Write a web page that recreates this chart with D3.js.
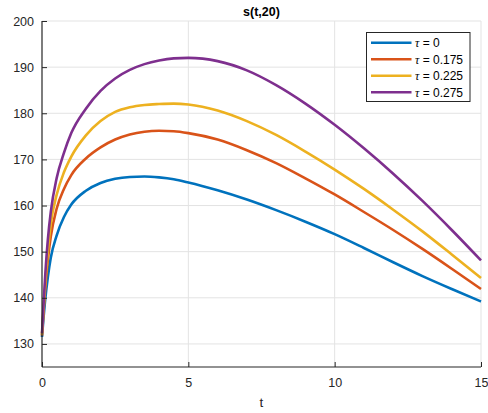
<!DOCTYPE html>
<html>
<head>
<meta charset="utf-8">
<script src="https://cdn.jsdelivr.net/npm/d3@7"></script>
<style>
  html, body { margin: 0; padding: 0; background: #fff; }
  svg { display: block; font-family: "Liberation Sans", Arial, Helvetica, sans-serif; }
</style>
</head>
<body>
<svg id="chart" width="488" height="413"></svg>
<script>
const tValues = [0, 0.05, 0.1, 0.2, 0.3, 0.5, 0.75, 1, 1.5, 2, 2.5, 3, 3.5, 4, 4.5, 5, 6, 7, 8, 9, 10, 11, 12, 13, 14, 15];
const sTau0    = [131.5, 135.5, 139.0, 144.5, 148.7, 153.5, 157.5, 160.2, 163.2, 164.9, 165.8, 166.2, 166.3, 166.1, 165.7, 165.0, 163.3, 161.3, 159.0, 156.5, 153.8, 150.8, 147.7, 144.7, 141.9, 139.2];
const sTau175  = [131.8, 136.8, 141.2, 148.2, 153.3, 159.3, 163.6, 166.6, 170.2, 172.6, 174.3, 175.4, 176.0, 176.2, 176.1, 175.7, 174.3, 172.0, 169.2, 165.9, 162.4, 158.6, 154.7, 150.6, 146.3, 141.9];
const sTau225  = [132.0, 137.3, 142.2, 150.0, 156.0, 162.3, 167.2, 170.6, 175.2, 178.3, 180.3, 181.3, 181.8, 182.0, 182.1, 181.9, 180.6, 178.3, 175.3, 171.7, 167.8, 163.6, 159.1, 154.4, 149.4, 144.3];
const sTau275  = [132.3, 138.2, 143.8, 152.6, 158.6, 165.9, 171.4, 175.7, 181.0, 184.85, 187.55, 189.4, 190.65, 191.45, 191.9, 192.0, 191.3, 189.3, 186.1, 182.1, 177.5, 172.4, 166.9, 161.0, 154.7, 148.1];
const seriesNames = ["\u03C4 = 0", "\u03C4 = 0.175", "\u03C4 = 0.225", "\u03C4 = 0.275"];
const seriesColors = ["#0072BD", "#D95319", "#EDB120", "#7E2F8E"];
const xTicks = [0, 5, 10, 15];
const yTicks = [130, 140, 150, 160, 170, 180, 190, 200];
const titleText = "s(t,20)";
const xLabelText = "t";

const allSeries = [sTau0, sTau175, sTau225, sTau275];

const svg = d3.select("#chart");
const margin = { left: 42, right: 7, top: 21, bottom: 46 };
const W = 488, H = 413;
const x = d3.scaleLinear().domain([0, 15]).range([margin.left, W - margin.right]);
const y = d3.scaleLinear().domain([125, 200]).range([H - margin.bottom, margin.top]);

// grid
const grid = svg.append("g");
grid.selectAll("line.gx").data(xTicks.filter(d => d > 0)).enter().append("line")
  .attr("x1", d => x(d)).attr("x2", d => x(d))
  .attr("y1", y(125)).attr("y2", y(200))
  .attr("stroke", "#e3e3e3").attr("stroke-width", 1);
grid.selectAll("line.gy").data(yTicks).enter().append("line")
  .attr("x1", x(0)).attr("x2", x(15))
  .attr("y1", d => y(d)).attr("y2", d => y(d))
  .attr("stroke", "#e3e3e3").attr("stroke-width", 1);

// lines
const line = d3.line()
  .x((d, i) => x(tValues[i]))
  .y(d => y(d))
  .curve(d3.curveMonotoneX);

const clipId = "plotclip";
svg.append("clipPath").attr("id", clipId).append("rect")
  .attr("x", x(0) - 2).attr("y", y(200)).attr("width", x(15) - x(0) + 4).attr("height", y(125) - y(200));

svg.append("g").attr("clip-path", `url(#${clipId})`)
  .selectAll("path").data(allSeries).enter().append("path")
  .attr("d", d => line(d))
  .attr("fill", "none")
  .attr("stroke", (d, i) => seriesColors[i])
  .attr("stroke-width", 2.6)
  .attr("stroke-linejoin", "round");

// axes
const xAxis = d3.axisBottom(x).tickValues(xTicks).tickSize(-5).tickPadding(11).tickFormat(d3.format("d"));
const yAxis = d3.axisLeft(y).tickValues(yTicks).tickSize(-5).tickPadding(8).tickFormat(d3.format("d"));

const gx = svg.append("g").attr("transform", `translate(0,${y(125)})`).call(xAxis);
const gy = svg.append("g").attr("transform", `translate(${x(0)},0)`).call(yAxis);
[gx, gy].forEach(g => {
  g.select(".domain").attr("stroke", "#262626").attr("stroke-width", 1.2);
  g.selectAll(".tick line").attr("stroke", "#262626").attr("stroke-width", 1);
  g.selectAll(".tick text").attr("fill", "#262626").attr("font-size", 12.5)
    .attr("font-family", "'Liberation Sans', Arial, sans-serif");
});
gy.select(".domain").attr("d", `M0,${y(200)}V${y(125)}`);
gx.select(".domain").attr("d", `M${x(0)},0H${x(15)}`);

// title
svg.append("text").attr("x", (x(0) + x(15)) / 2).attr("y", 16)
  .attr("text-anchor", "middle").attr("font-weight", "bold").attr("font-size", 12.5)
  .attr("fill", "#000").text(titleText);

// x label
svg.append("text").attr("x", (x(0) + x(15)) / 2).attr("y", 407)
  .attr("text-anchor", "middle").attr("font-size", 13.5)
  .attr("fill", "#262626").text(xLabelText);

// legend
const lg = svg.append("g");
lg.append("rect").attr("x", 366.5).attr("y", 32.5).attr("width", 103.5).attr("height", 69)
  .attr("fill", "#fff").attr("stroke", "#262626").attr("stroke-width", 1);
const entryY = [42.7, 59.2, 75.7, 92.2];
seriesNames.forEach((name, i) => {
  lg.append("line").attr("x1", 371).attr("x2", 411.5)
    .attr("y1", entryY[i]).attr("y2", entryY[i])
    .attr("stroke", seriesColors[i]).attr("stroke-width", 2.6);
  const t = lg.append("text").attr("x", 415).attr("y", entryY[i] + 4.3)
    .attr("font-size", 12).attr("fill", "#000");
  t.append("tspan").attr("font-style", "italic").attr("font-family", "'Liberation Serif', 'Times New Roman', serif").text(name.slice(0, 1));
  t.append("tspan").text(name.slice(1));
});
</script>
</body>
</html>
